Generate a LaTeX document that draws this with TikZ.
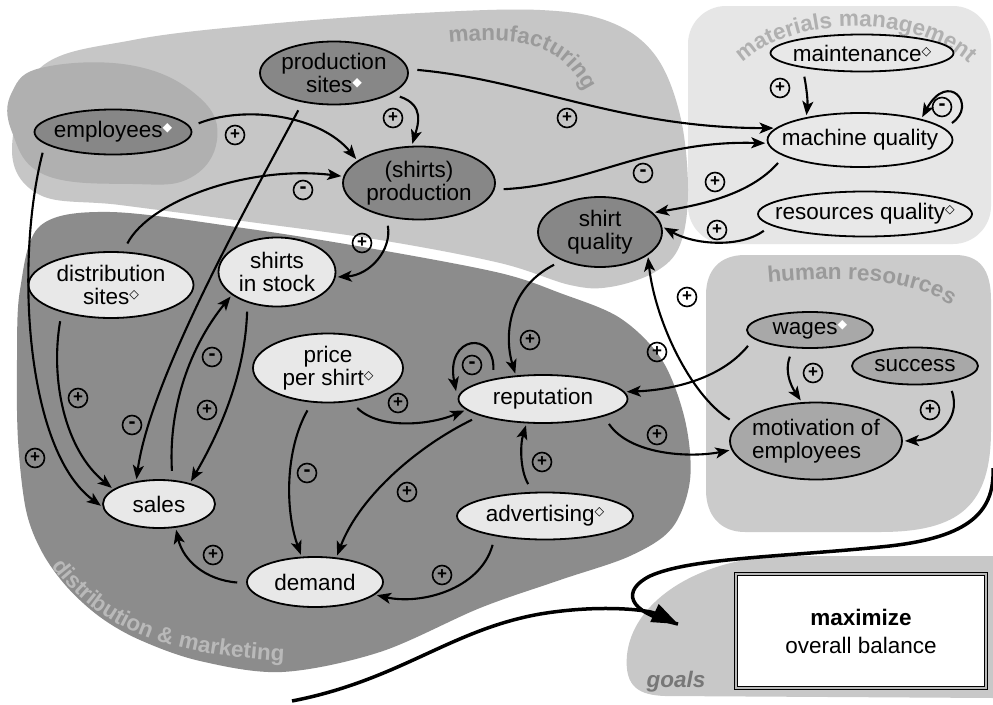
\documentclass[tikz,border=0pt]{standalone}
\usepackage{fontspec}
\setmainfont{Liberation Sans}
\newfontfamily\djv{DejaVu Sans}
\usetikzlibrary{shapes.geometric, arrows.meta, decorations.text}

\definecolor{cmanu}{HTML}{C6C6C6}
\definecolor{cemp}{HTML}{B0B0B0}
\definecolor{cdist}{HTML}{8C8C8C}
\definecolor{cmat}{HTML}{E6E6E6}
\definecolor{chr}{HTML}{CBCBCB}
\definecolor{cgoal}{HTML}{C8C8C8}
\definecolor{fdark}{HTML}{878787}
\definecolor{flight}{HTML}{E8E8E8}
\definecolor{fmid}{HTML}{A8A8A8}
\definecolor{labM}{HTML}{9A9A9A}
\definecolor{labMat}{HTML}{B0B0B0}
\definecolor{labHR}{HTML}{9A9A9A}
\definecolor{labD}{HTML}{B9B9B9}
\definecolor{labG}{HTML}{777777}

\newcommand{\dmo}{\raisebox{6pt}{\djv\fontsize{12.5}{12.5}\selectfont ◇}}
\newcommand{\dmf}{\raisebox{6pt}{\djv\fontsize{12.5}{12.5}\selectfont\textcolor{white}{◆}}}
\newcommand{\labfont}{\fontsize{22.5}{22.5}\selectfont\bfseries}

\tikzset{
  nodeBase/.style={ellipse, draw=black, line width=1.8pt, inner sep=-120pt,
    font=\fontsize{22.5}{23}\selectfont, align=center},
  nodeDark/.style={nodeBase, fill=fdark},
  nodeLight/.style={nodeBase, fill=flight},
  nodeMid/.style={nodeBase, fill=fmid},
  signc/.style={circle, draw=black, line width=1.6pt, minimum size=19pt, inner sep=0pt,
    font=\bfseries\fontsize{17}{17}\selectfont},
  signm/.style={signc, font=\bfseries\fontsize{21}{21}\selectfont},
  edgearr/.style={line width=2.1pt, -{Stealth[length=14pt,width=11pt,inset=3.5pt]},
    shorten <=9pt, shorten >=2pt},
  thickline/.style={line width=3.5pt}
}

\begin{document}
\begin{tikzpicture}[x=1pt,y=-1pt]
\useasboundingbox (0,0) rectangle (993,704);
\fill[white] (0,0) rectangle (993,704);

% regions
\fill[cmat, rounded corners=38pt] (688,6) rectangle (991,244);
\fill[chr] (745,255) -- (955,255) .. controls (980,255) and (991,270) .. (991,300) -- (991,430)
  .. controls (991,505) and (960,532) .. (880,532) -- (745,532)
  .. controls (720,532) and (706,515) .. (706,490) -- (706,295)
  .. controls (706,270) and (720,255) .. (745,255) -- cycle;
\fill[cgoal] (993,556) -- (775,556) .. controls (690,562) and (632,605) .. (627,655)
  .. controls (624,688) and (640,695) .. (665,696) -- (993,698) -- cycle;
\fill[cmanu] plot[smooth cycle, tension=0.6] coordinates {(40,68) (133,40) (267,24) (420,13)
  (540,10) (610,22) (655,55) (680,115) (688,190) (680,245) (655,272) (610,287) (570,285)
  (500,263) (380,240) (250,222) (120,205) (40,195) (12,150)};
\fill[cemp] plot[smooth cycle, tension=0.7] coordinates {(12,92) (45,67) (135,66) (200,98)
  (217,140) (190,178) (133,184) (45,175) (12,132)};
\fill[cdist] plot[smooth cycle, tension=0.55] coordinates {(40,226) (110,212) (250,229)
  (380,250) (500,273) (560,293) (620,318) (662,360) (685,420) (690,480) (672,528) (630,556)
  (560,580) (480,608) (380,652) (282,672) (200,661) (140,640) (100,617) (67,587) (42,552)
  (26,510) (18,440) (17,360) (20,290)};

% region labels
\path[decorate, decoration={text along path, text color=labM,
  text={|\labfont|manufacturing}}]
  (449,43) .. controls (530,35) and (572,45) .. (595,115);
\path[decorate, decoration={text along path, text color=labMat, text align=center,
  text={|\labfont|materials management}}]
  (728,82) .. controls (768,8) and (942,8) .. (984,82);
\path[decorate, decoration={text along path, text color=labHR,
  text={|\labfont|human resources}}]
  (768,283) .. controls (860,275) and (930,278) .. (975,325);
\path[decorate, decoration={text along path, text color=labD,
  text={|\labfont|distribution {\&} marketing}}]
  (52,566) .. controls (98,628) and (165,660) .. (320,662);
\node[font=\bfseries\itshape\fontsize{22.5}{22.5}\selectfont, text=labG] (glab) at (676,682) {goals};

% goal box
\node[draw=black, line width=1.3pt, double=gray!55, double distance=1.5pt, fill=white,
  minimum width=250pt, minimum height=114pt, align=center,
  font=\fontsize{22.5}{28}\selectfont] (goal) at (861,631) {\textbf{maximize}\\overall balance};

% thick arrows into goals
\coordinate (hrS) at (993,468);
\coordinate (dmS) at (292,701);
\coordinate (gin) at (678,624);
\draw[thickline] (hrS) .. controls (995,515) and (965,539) .. (880,547)
  .. controls (780,557) and (690,558) .. (650,576) .. controls (622,590) and (625,612) .. (gin);
\draw[thickline, -{Triangle[length=26pt,width=19pt]}] (dmS) .. controls (400,680) and (450,630) .. (540,614)
  .. controls (600,604) and (648,610) .. (gin);

% nodes
\node[nodeDark, minimum width=148pt, minimum height=63pt] (ps) at (334,73) {production\\sites\dmf};
\node[nodeDark, minimum width=157pt, minimum height=45pt] (emp) at (113,132) {employees\dmf};
\node[nodeDark, minimum width=152pt, minimum height=73pt] (prod) at (419,183) {(shirts)\\production};
\node[nodeDark, minimum width=124pt, minimum height=70pt] (sq) at (600,232) {shirt\\quality};
\node[nodeLight, minimum width=183pt, minimum height=37pt] (mt) at (862,53) {maintenance\dmo};
\node[nodeLight, minimum width=185pt, minimum height=54pt] (mq) at (860,140) {machine quality};
\node[nodeLight, minimum width=214pt, minimum height=45pt] (rq) at (865,214) {resources quality\dmo};
\node[nodeLight, minimum width=165pt, minimum height=66pt] (ds) at (111,285) {distribution\\sites\dmo};
\node[nodeLight, minimum width=117pt, minimum height=69pt] (sis) at (277,272) {shirts\\in stock};
\node[nodeLight, minimum width=150pt, minimum height=69pt] (pps) at (328,368) {price\\per shirt\dmo};
\node[nodeLight, minimum width=169pt, minimum height=48pt] (rep) at (543,399) {reputation};
\node[nodeLight, minimum width=112pt, minimum height=48pt] (sal) at (159,504) {sales};
\node[nodeLight, minimum width=136pt, minimum height=50pt] (dem) at (315,582) {demand};
\node[nodeLight, minimum width=176pt, minimum height=47pt] (adv) at (545,516) {advertising\dmo};
\node[nodeMid, minimum width=126pt, minimum height=36pt] (wag) at (810,330) {wages\dmf};
\node[nodeMid, minimum width=126pt, minimum height=37pt] (suc) at (915,366) {success};
\node[nodeMid, minimum width=172pt, minimum height=77pt, align=left] (mot) at (816,441) {motivation of\\employees};

% edges
\draw[edgearr] (emp.4) .. controls (245,105) and (320,115) .. (prod.160);
\draw[edgearr] (ps.-20) .. controls (425,105) and (418,125) .. (prod.101);
\draw[edgearr] (ds.70) .. controls (150,200) and (250,165) .. (prod.175);
\draw[edgearr] (ps.3) .. controls (530,80) and (620,128) .. (mq.172);
\draw[edgearr] (prod.-5) .. controls (590,185) and (650,140) .. (mq.182);
\draw[edgearr] (mt.194) .. controls (806,85) and (808,100) .. (mq.157);
\draw[edgearr] (mq.8) .. controls (978,105) and (948,70) .. (mq.19);
\draw[edgearr] (mq.192) .. controls (750,195) and (700,205) .. (sq.20);
\draw[edgearr] (rq.187) .. controls (740,248) and (695,245) .. (sq.5);
\draw[edgearr] (prod.226) .. controls (392,250) and (370,275) .. (sis.-5);
\draw[edgearr] (ps.223) .. controls (245,210) and (150,380) .. (sal.135);
\draw[edgearr] (emp.190) .. controls (15,260) and (25,450) .. (sal.183);
\draw[edgearr] (ds.209) .. controls (50,380) and (65,450) .. (sal.162);
\draw[edgearr] (sal.61) .. controls (168,400) and (195,340) .. (sis.207);
\draw[edgearr] (sis.226) .. controls (245,380) and (215,440) .. (sal.34);
\draw[edgearr] (pps.-56) .. controls (380,430) and (430,425) .. (rep.188);
\draw[edgearr] (pps.245) .. controls (285,450) and (285,510) .. (dem.118);
\draw[edgearr] (rep.195) .. controls (420,445) and (360,495) .. (dem.49);
\draw[edgearr, shorten >=8pt] (rep.158) .. controls (495,330) and (445,335) .. (rep.west);
\draw[edgearr] (sq.217) .. controls (505,290) and (505,340) .. (rep.139);
\draw[edgearr] (adv.117) .. controls (520,470) and (520,445) .. (rep.236);
\draw[edgearr] (adv.202) .. controls (480,590) and (420,605) .. (dem.-12);
\draw[edgearr] (dem.181) .. controls (205,580) and (183,560) .. (sal.-55);
\draw[edgearr] (wag.189) .. controls (720,380) and (670,390) .. (rep.5);
\draw[edgearr] (wag.227) .. controls (783,375) and (795,392) .. (mot.110);
\draw[edgearr] (suc.-26) .. controls (962,420) and (935,440) .. (mot.0);
\draw[edgearr] (rep.-16) .. controls (630,455) and (690,458) .. (mot.186);
\draw[edgearr] (mot.168) .. controls (690,395) and (655,320) .. (sq.-26);

% signs
\node[signc] (s1) at (235,135) {+};
\node[signc] (s2) at (393,118) {+};
\node[signm] (s3) at (303,190) {\raisebox{-1.5pt}{-}};
\node[signc] (s4) at (362,243) {+};
\node[signc] (s5) at (567,118) {+};
\node[signm] (s6) at (643,173) {\raisebox{-1.5pt}{-}};
\node[signc] (s7) at (780,88) {+};
\node[signm] (s8) at (942,107) {\raisebox{-1.5pt}{-}};
\node[signc] (s9) at (715,182) {+};
\node[signc] (s10) at (717,230) {+};
\node[signc] (s11) at (78,398) {+};
\node[signm] (s12) at (132,425) {\raisebox{-1.5pt}{-}};
\node[signc] (s13) at (35,458) {+};
\node[signm] (s14) at (212,357) {\raisebox{-1.5pt}{-}};
\node[signc] (s15) at (207,410) {+};
\node[signc] (s16) at (398,403) {+};
\node[signm] (s17) at (472,365) {\raisebox{-1.5pt}{-}};
\node[signc] (s18) at (530,340) {+};
\node[signc] (s19) at (687,297) {+};
\node[signc] (s20) at (657,352) {+};
\node[signc] (s21) at (813,373) {+};
\node[signc] (s22) at (930,410) {+};
\node[signc] (s23) at (657,435) {+};
\node[signc] (s24) at (542,462) {+};
\node[signm] (s25) at (307,473) {\raisebox{-1.5pt}{-}};
\node[signc] (s26) at (407,492) {+};
\node[signc] (s27) at (213,555) {+};
\node[signc] (s28) at (442,575) {+};
\end{tikzpicture}
\end{document}
